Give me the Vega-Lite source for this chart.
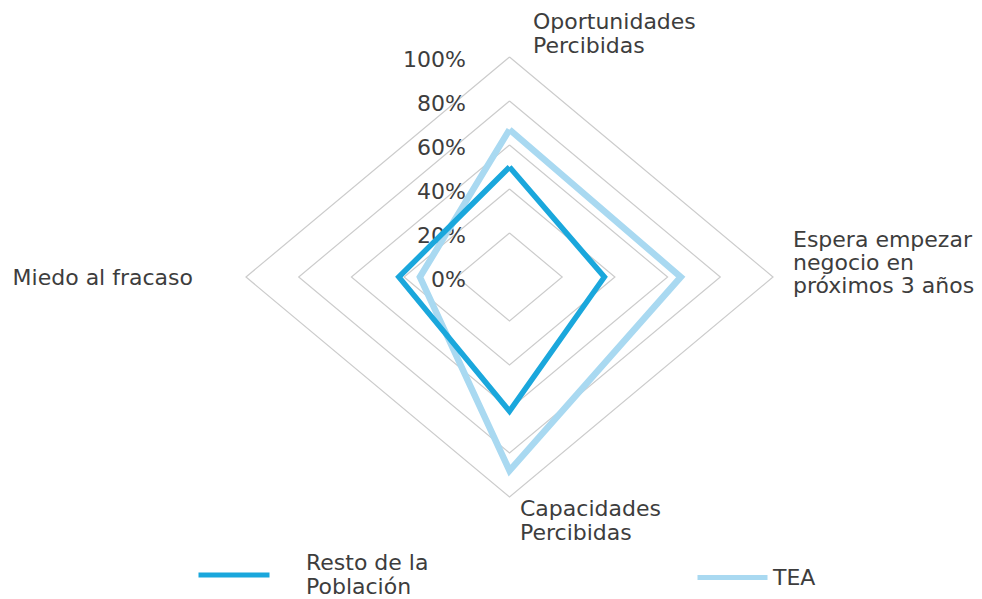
{
  "$schema": "https://vega.github.io/schema/vega-lite/v6.json",
  "width": 527,
  "height": 440,
  "autosize": {"type": "none"},
  "padding": {"left": 246, "top": 57, "right": 209, "bottom": 102},
  "background": "white",
  "config": {
    "view": {"stroke": null},
    "text": {"font": "DejaVu Sans"},
    "legend": {"labelFont": "DejaVu Sans", "labelFontSize": 22, "labelColor": "#3d3d3d", "padding": 0, "title": null}
  },
  "datasets": {
    "radar": [
      {"serie": "TEA", "eje": "Oportunidades Percibidas", "orden": 1, "x": 0, "y": 67},
      {"serie": "TEA", "eje": "Espera empezar negocio en próximos 3 años", "orden": 2, "x": 65, "y": 0},
      {"serie": "TEA", "eje": "Capacidades Percibidas", "orden": 3, "x": 0, "y": -88},
      {"serie": "TEA", "eje": "Miedo al fracaso", "orden": 4, "x": -34, "y": 0},
      {"serie": "TEA", "eje": "Oportunidades Percibidas", "orden": 5, "x": 0, "y": 67},
      {"serie": "Resto de la Población", "eje": "Oportunidades Percibidas", "orden": 1, "x": 0, "y": 50},
      {"serie": "Resto de la Población", "eje": "Espera empezar negocio en próximos 3 años", "orden": 2, "x": 36, "y": 0},
      {"serie": "Resto de la Población", "eje": "Capacidades Percibidas", "orden": 3, "x": 0, "y": -61},
      {"serie": "Resto de la Población", "eje": "Miedo al fracaso", "orden": 4, "x": -42, "y": 0},
      {"serie": "Resto de la Población", "eje": "Oportunidades Percibidas", "orden": 5, "x": 0, "y": 50}
    ],
    "rejilla": [
      {"nivel": 20, "orden": 1, "x": 0, "y": 20}, {"nivel": 20, "orden": 2, "x": 20, "y": 0}, {"nivel": 20, "orden": 3, "x": 0, "y": -20}, {"nivel": 20, "orden": 4, "x": -20, "y": 0}, {"nivel": 20, "orden": 5, "x": 0, "y": 20},
      {"nivel": 40, "orden": 1, "x": 0, "y": 40}, {"nivel": 40, "orden": 2, "x": 40, "y": 0}, {"nivel": 40, "orden": 3, "x": 0, "y": -40}, {"nivel": 40, "orden": 4, "x": -40, "y": 0}, {"nivel": 40, "orden": 5, "x": 0, "y": 40},
      {"nivel": 60, "orden": 1, "x": 0, "y": 60}, {"nivel": 60, "orden": 2, "x": 60, "y": 0}, {"nivel": 60, "orden": 3, "x": 0, "y": -60}, {"nivel": 60, "orden": 4, "x": -60, "y": 0}, {"nivel": 60, "orden": 5, "x": 0, "y": 60},
      {"nivel": 80, "orden": 1, "x": 0, "y": 80}, {"nivel": 80, "orden": 2, "x": 80, "y": 0}, {"nivel": 80, "orden": 3, "x": 0, "y": -80}, {"nivel": 80, "orden": 4, "x": -80, "y": 0}, {"nivel": 80, "orden": 5, "x": 0, "y": 80},
      {"nivel": 100, "orden": 1, "x": 0, "y": 100}, {"nivel": 100, "orden": 2, "x": 100, "y": 0}, {"nivel": 100, "orden": 3, "x": 0, "y": -100}, {"nivel": 100, "orden": 4, "x": -100, "y": 0}, {"nivel": 100, "orden": 5, "x": 0, "y": 100}
    ],
    "porcentajes": [
      {"etiqueta": "0%", "nivel": 0},
      {"etiqueta": "20%", "nivel": 20},
      {"etiqueta": "40%", "nivel": 40},
      {"etiqueta": "60%", "nivel": 60},
      {"etiqueta": "80%", "nivel": 80},
      {"etiqueta": "100%", "nivel": 100}
    ]
  },
  "layer": [
    {
      "data": {"name": "rejilla"},
      "mark": {"type": "line", "color": "#cccccc", "strokeWidth": 1.2, "strokeJoin": "miter"},
      "encoding": {
        "x": {"field": "x", "type": "quantitative", "scale": {"domain": [-100, 100], "nice": false, "zero": false}, "axis": null},
        "y": {"field": "y", "type": "quantitative", "scale": {"domain": [-100, 100], "nice": false, "zero": false}, "axis": null},
        "detail": {"field": "nivel", "type": "nominal"},
        "order": {"field": "orden", "type": "quantitative"}
      }
    },
    {
      "data": {"name": "porcentajes"},
      "mark": {"type": "text", "align": "right", "baseline": "middle", "dx": -43.5, "dy": 2.5, "fontSize": 22, "color": "#3d3d3d", "font": "DejaVu Sans"},
      "encoding": {
        "x": {"datum": 0, "type": "quantitative"},
        "y": {"field": "nivel", "type": "quantitative"},
        "text": {"field": "etiqueta", "type": "nominal"}
      }
    },
    {
      "data": {"values": [{"etiqueta": "Oportunidades\nPercibidas"}]},
      "mark": {"type": "text", "align": "left", "baseline": "middle", "lineBreak": "\n", "lineHeight": 24, "dx": 23.5, "dy": -35, "fontSize": 22, "color": "#3d3d3d", "font": "DejaVu Sans"},
      "encoding": {
        "x": {"datum": 0, "type": "quantitative"},
        "y": {"datum": 100, "type": "quantitative"},
        "text": {"field": "etiqueta", "type": "nominal"}
      }
    },
    {
      "data": {"values": [{"etiqueta": "Espera empezar\nnegocio en\npróximos 3 años"}]},
      "mark": {"type": "text", "align": "left", "baseline": "middle", "lineBreak": "\n", "lineHeight": 23, "dx": 20, "dy": -37, "fontSize": 22, "color": "#3d3d3d", "font": "DejaVu Sans"},
      "encoding": {
        "x": {"datum": 100, "type": "quantitative"},
        "y": {"datum": 0, "type": "quantitative"},
        "text": {"field": "etiqueta", "type": "nominal"}
      }
    },
    {
      "data": {"values": [{"etiqueta": "Miedo al fracaso"}]},
      "mark": {"type": "text", "align": "right", "baseline": "middle", "dx": -53, "dy": 1, "fontSize": 22, "color": "#3d3d3d", "font": "DejaVu Sans"},
      "encoding": {
        "x": {"datum": -100, "type": "quantitative"},
        "y": {"datum": 0, "type": "quantitative"},
        "text": {"field": "etiqueta", "type": "nominal"}
      }
    },
    {
      "data": {"values": [{"etiqueta": "Capacidades\nPercibidas"}]},
      "mark": {"type": "text", "align": "left", "baseline": "middle", "lineBreak": "\n", "lineHeight": 24, "dx": 10.5, "dy": 12, "fontSize": 22, "color": "#3d3d3d", "font": "DejaVu Sans"},
      "encoding": {
        "x": {"datum": 0, "type": "quantitative"},
        "y": {"datum": -100, "type": "quantitative"},
        "text": {"field": "etiqueta", "type": "nominal"}
      }
    },
    {
      "data": {"name": "radar"},
      "transform": [{"filter": "datum.serie === 'TEA'"}],
      "mark": {"type": "line", "strokeWidth": 6.5, "strokeJoin": "miter"},
      "encoding": {
        "x": {"field": "x", "type": "quantitative"},
        "y": {"field": "y", "type": "quantitative"},
        "order": {"field": "orden", "type": "quantitative"},
        "color": {
          "field": "serie", "type": "nominal",
          "scale": {"domain": ["TEA"], "range": ["#a9d9f1"]},
          "legend": {"orient": "none", "legendX": 449, "legendY": 483, "symbolType": "stroke", "symbolSize": 4900, "symbolStrokeWidth": 5, "labelOffset": 3, "labelLimit": 300}
        }
      }
    },
    {
      "data": {"name": "radar"},
      "transform": [{"filter": "datum.serie === 'Resto de la Población'"}],
      "mark": {"type": "line", "strokeWidth": 5.5, "strokeJoin": "miter"},
      "encoding": {
        "x": {"field": "x", "type": "quantitative"},
        "y": {"field": "y", "type": "quantitative"},
        "order": {"field": "orden", "type": "quantitative"},
        "color": {
          "field": "serie", "type": "nominal",
          "scale": {"domain": ["Resto de la Población"], "range": ["#1aa7dc"]},
          "legend": {"orient": "none", "legendX": -50, "legendY": 480, "symbolType": "stroke", "symbolSize": 5041, "symbolStrokeWidth": 5, "labelOffset": 34, "labelLimit": 300, "labelBaseline": "bottom", "labelExpr": "['Resto de la', 'Población']"}
        }
      }
    }
  ],
  "resolve": {"scale": {"color": "independent"}, "legend": {"color": "independent"}}
}
